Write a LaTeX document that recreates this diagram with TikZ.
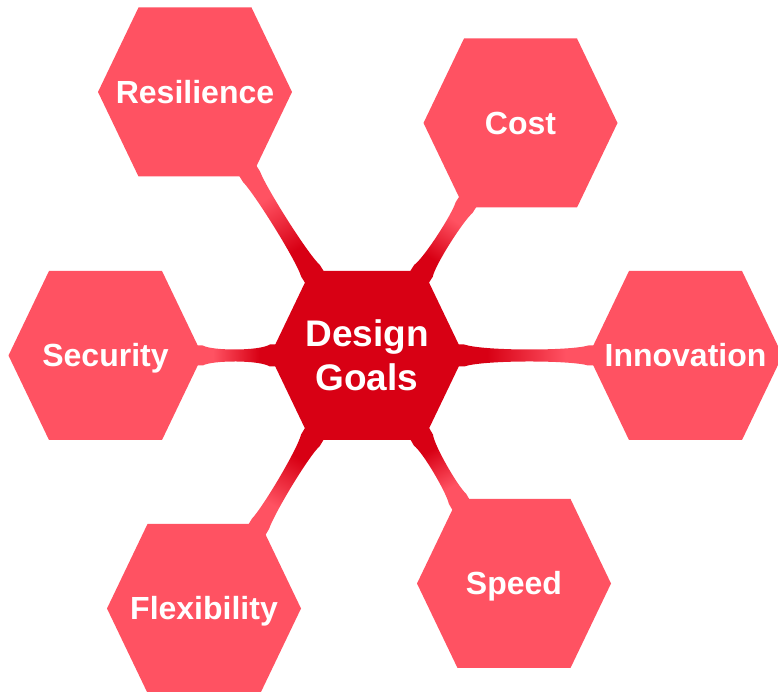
\documentclass[tikz,border=0pt]{standalone}
\usepackage{fontspec}
\setmainfont{Liberation Sans}
\usetikzlibrary{calc,backgrounds}

\definecolor{goalpink}{RGB}{255,82,98}
\definecolor{goaldark}{RGB}{216,0,20}

% colour runs from the goal end (left at angle 0) to the hub end
\pgfdeclarehorizontalshading{linkshade}{100bp}{color(0bp)=(goalpink); color(36bp)=(goalpink); color(64bp)=(goaldark); color(100bp)=(goaldark)}

\tikzset{
  hexagon/.style={minimum width=194pt, minimum height=169pt, inner sep=0pt,
    text=white, align=center, font=\bfseries\fontsize{32}{38}\selectfont,
    path picture={\fill[#1] (path picture bounding box.west)
      -- ($(path picture bounding box.north)+(-56.5pt,0)$)
      -- ($(path picture bounding box.north)+(56.5pt,0)$)
      -- (path picture bounding box.east)
      -- ($(path picture bounding box.south)+(56.5pt,0)$)
      -- ($(path picture bounding box.south)+(-56.5pt,0)$) -- cycle;}},
  % capitals of the goal names sit centred in the hexagon
  goal/.style={hexagon=goalpink, text height=23pt, text depth=0pt},
  hub/.style={hexagon=goaldark, font=\bfseries\fontsize{37}{44}\selectfont},
}

% tapered link: #1 hub corner, #2 goal corner, #3 shading angle, #4 waist control offset;
% both ends run 8pt on into the hexagons so that no gap shows at the corners
\newcommand\goallink[4]{%
  \shade[shading=linkshade, shading angle=#3]
    ($(#1)!-8pt!(#2)!11pt!90:(#2)$) -- ($(#1)!11pt!90:(#2)$)
    .. controls ($(#1)!0.15!(#2)!#4!90:(#2)$) and ($(#1)!0.85!(#2)!#4!90:(#2)$) ..
    ($(#2)!10pt!-90:(#1)$) -- ($(#2)!-8pt!(#1)!10pt!-90:(#1)$)
    -- ($(#2)!-8pt!(#1)!10pt!90:(#1)$) -- ($(#2)!10pt!90:(#1)$)
    .. controls ($(#1)!0.85!(#2)!#4!-90:(#2)$) and ($(#1)!0.15!(#2)!#4!-90:(#2)$) ..
    ($(#1)!11pt!-90:(#2)$) -- ($(#1)!-8pt!(#2)!11pt!-90:(#2)$) -- cycle;%
}

\begin{document}
\begin{tikzpicture}[x=1pt,y=1pt]
  \useasboundingbox (0,0) rectangle (778,692);

  \node[hub]  (hub)   at (367,336.5)   {Design\\Goals};
  \node[goal] (res)   at (195,600)     {Resilience};
  \node[goal] (cost)  at (520.5,569)   {Cost};
  \node[goal] (sec)   at (105.5,336.5) {Security};
  \node[goal] (inno)  at (685.5,336.5) {Innovation};
  \node[goal] (flex)  at (204,83.5)    {Flexibility};
  \node[goal] (speed) at (514,108.5)   {Speed};

  % hexagon corners where the links attach
  \coordinate (hubNW) at ($(hub.north)+(-56.5,0)$);
  \coordinate (hubNE) at ($(hub.north)+(56.5,0)$);
  \coordinate (hubSW) at ($(hub.south)+(-56.5,0)$);
  \coordinate (hubSE) at ($(hub.south)+(56.5,0)$);
  \coordinate (resSE)   at ($(res.south)+(56.5,0)$);
  \coordinate (costSW)  at ($(cost.south)+(-56.5,0)$);
  \coordinate (flexNE)  at ($(flex.north)+(56.5,0)$);
  \coordinate (speedNW) at ($(speed.north)+(-56.5,0)$);

  \begin{pgfonlayer}{background}
    \goallink{hubNW}{resSE}{-57.9}{6.5pt}
    \goallink{hubNE}{costSW}{-122.7}{6.5pt}
    \goallink{hub.west}{sec.east}{0}{4.5pt}
    \goallink{hub.east}{inno.west}{180}{4.5pt}
    \goallink{hubSW}{flexNE}{59.4}{6.5pt}
    \goallink{hubSE}{speedNW}{119.7}{6.5pt}
  \end{pgfonlayer}
\end{tikzpicture}
\end{document}
